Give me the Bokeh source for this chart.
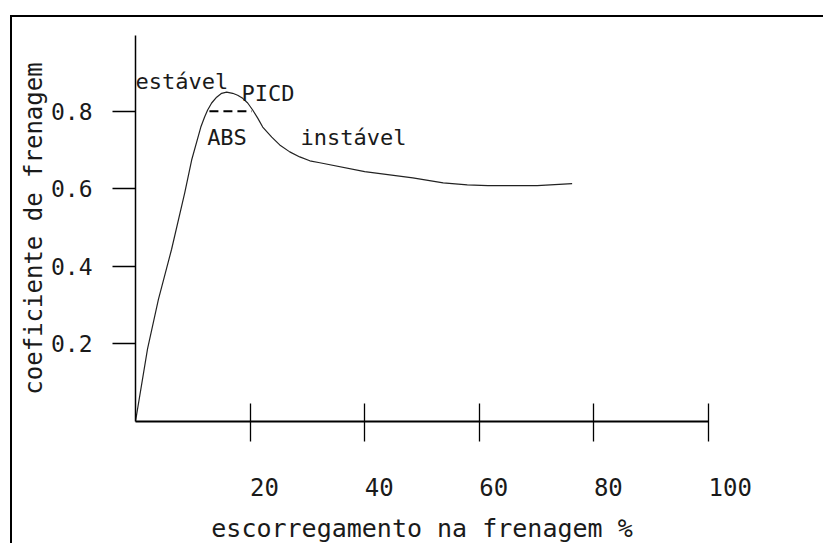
from bokeh.plotting import figure
from bokeh.models import Range1d, FixedTicker, ColumnDataSource
from bokeh.core.properties import value
from bokeh.embed import file_html
from bokeh.resources import INLINE

# ---- data ----
slip = [0.0, 2.1, 4.0, 6.3, 8.6, 9.8, 11.4, 12.06, 12.59, 13.29, 14.16, 15.03, 15.91,
        16.96, 17.83, 18.71, 19.58, 20.45, 21.33, 22.2, 23.78, 25.17, 26.92, 28.67,
        30.42, 32.17, 40.0, 48.4, 53.7, 57.9, 61.5, 70.1, 76.2]
coef = [0.0, 0.187, 0.315, 0.444, 0.590, 0.674, 0.759, 0.785, 0.803, 0.821, 0.836,
        0.846, 0.849, 0.846, 0.841, 0.833, 0.821, 0.803, 0.782, 0.759, 0.733, 0.713,
        0.695, 0.682, 0.672, 0.667, 0.644, 0.628, 0.615, 0.610, 0.608, 0.608, 0.613]
abs_x = [12.9, 20.3]
abs_y = [0.80, 0.80]
x_ticks = [20, 40, 60, 80, 100]
y_ticks = [0.2, 0.4, 0.6, 0.8]
notes = ["estável", "PICD", "ABS", "instável"]
note_x = [0.0, 18.5, 12.5, 28.8]
note_y = [0.877, 0.846, 0.733, 0.731]

FONT = "DejaVu Sans Mono"
INK = "#1a1a1a"

p = figure(width=813, height=528, output_backend="svg", toolbar_location=None,
           x_range=Range1d(0, 100), y_range=Range1d(0, 0.995),
           min_border_left=123, min_border_right=117, min_border_top=18,
           min_border_bottom=122, margin=(15, 0, 0, 10))
p.styles = {"border-top": "2px solid black", "border-left": "2px solid black"}
p.outline_line_color = None
p.xgrid.visible = False
p.ygrid.visible = False
p.background_fill_color = "white"
p.border_fill_color = "white"

# curve
p.line(slip, coef, line_color="#222222", line_width=1.2)
p.line(abs_x, abs_y, line_color="black", line_width=2, line_dash="9 5")

src = ColumnDataSource(dict(x=note_x, y=note_y, t=notes))
p.text(x="x", y="y", text="t", source=src, text_font=value(FONT),
       text_font_size="22px", text_color=INK, text_align="left",
       text_baseline="alphabetic")

# x axis
xa = p.xaxis[0]
xa.ticker = FixedTicker(ticks=x_ticks)
xa.axis_line_width = 1.8
xa.axis_line_color = "black"
xa.major_tick_in = 18
xa.major_tick_out = 20
xa.major_tick_line_width = 1.3
xa.minor_tick_line_color = None
xa.major_label_text_font = FONT
xa.major_label_text_font_size = "24px"
xa.major_label_text_color = INK
xa.major_label_orientation = -0.0001
xa.major_label_standoff = 45
xa.axis_label = "escorregamento na frenagem %"
xa.axis_label_text_font = FONT
xa.axis_label_text_font_size = "25px"
xa.axis_label_text_font_style = "normal"
xa.axis_label_text_color = INK
xa.axis_label_standoff = 6

# y axis
ya = p.yaxis[0]
ya.ticker = FixedTicker(ticks=y_ticks)
ya.axis_line_width = 1.5
ya.axis_line_color = "black"
ya.major_tick_in = 0
ya.major_tick_out = 23
ya.major_tick_line_width = 1.3
ya.minor_tick_line_color = None
ya.major_label_text_font = FONT
ya.major_label_text_font_size = "23px"
ya.major_label_text_color = INK
ya.major_label_standoff = 20
ya.axis_label = "coeficiente de frenagem"
ya.axis_label_text_font = FONT
ya.axis_label_text_font_size = "24px"
ya.axis_label_text_font_style = "normal"
ya.axis_label_text_color = INK
ya.axis_label_standoff = 0

open("out.html", "w").write(file_html(p, INLINE))
